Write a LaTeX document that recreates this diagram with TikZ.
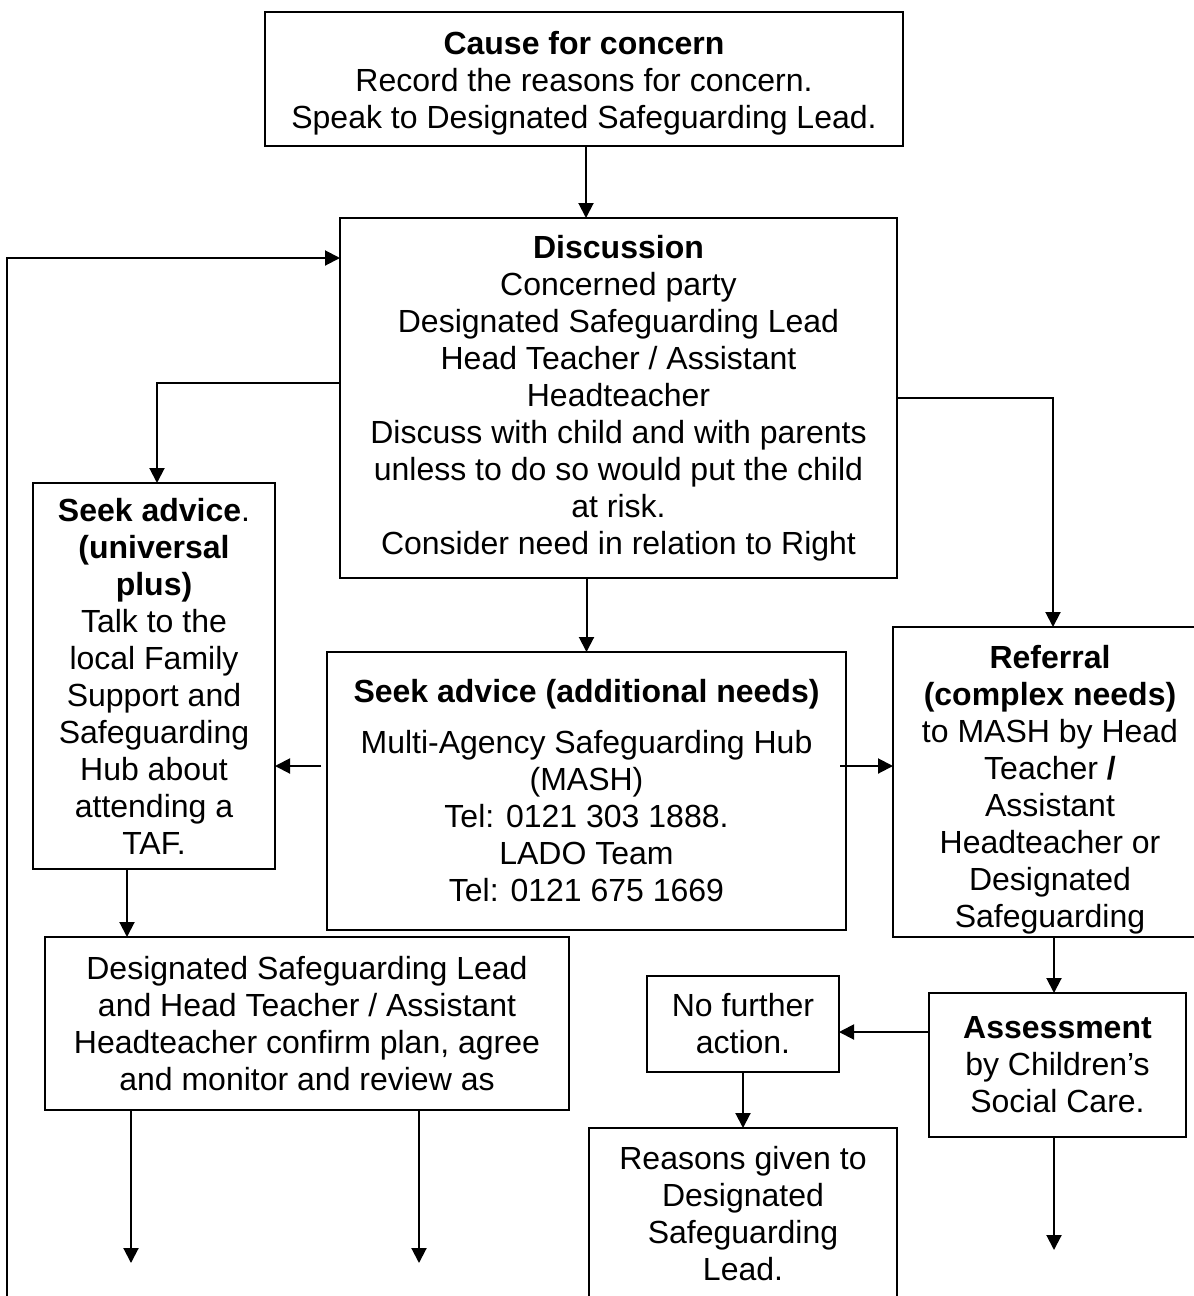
\documentclass[tikz,border=0pt]{standalone}
\usepackage{fontspec}
\setmainfont{Liberation Sans}
\usetikzlibrary{arrows.meta}

\begin{document}
\begin{tikzpicture}[
    x=0.5pt, y=-0.5pt,
    box/.style={draw, line width=0.9pt, align=center, inner sep=0pt, outer sep=0pt,
                font=\fontsize{16}{18.5}\selectfont},
    arr/.style={line width=1pt, -{Triangle[width=7.5pt,length=7.5pt]}}]

\clip (0,0) rectangle (1194,1296);

\node[box, minimum width=319pt, minimum height=67pt] (cause) at (584,79)
    {\rule{0pt}{16pt}\textbf{Cause for concern}\\ Record the reasons for concern.\\ Speak to Designated Safeguarding Lead.};

\node[box, minimum width=278.5pt, minimum height=180pt] (disc) at (618.5,398)
    {\textbf{Discussion}\\ Concerned party\\ Designated Safeguarding Lead\\ Head Teacher / Assistant\\ Headteacher\\
     Discuss with child and with parents\\ unless to do so would put the child\\ at risk.\\ Consider need in relation to Right};

\node[box, minimum width=121pt, minimum height=193pt] (seekU) at (154,676)
    {\textbf{Seek advice}.\\ \textbf{(universal}\\ \textbf{plus)}\\ Talk to the\\ local Family\\ Support and\\
     Safeguarding\\ Hub about\\ attending a\\ TAF.};

\node[box, minimum width=259.5pt, minimum height=139pt] (seekA) at (586.5,791)
    {\textbf{Seek advice (additional needs)}\\[7pt] Multi-Agency Safeguarding Hub\\ (MASH)\\ Tel: 0121 303 1888.\\
     LADO Team\\ Tel: 0121 675 1669};

\node[box, minimum width=157pt, minimum height=155pt] (referral) at (1050,782)
    {\rule{0pt}{19.5pt}\textbf{Referral}\\ \textbf{(complex needs)}\\ to MASH by Head\\ Teacher \textbf{/}\\ Assistant\\
     Headteacher or\\ Designated\\ Safeguarding};

\node[box, minimum width=128.5pt, minimum height=72pt] (assess) at (1057.5,1065)
    {\textbf{Assessment}\\ by Children’s\\ Social Care.};

\node[box, minimum width=96pt, minimum height=48pt] (nfa) at (743,1024)
    {No further\\ action.};

\node[box, minimum width=154pt, minimum height=86pt] (reasons) at (743,1214)
    {Reasons given to\\ Designated\\ Safeguarding\\ Lead.};

\node[box, minimum width=262pt, minimum height=86.5pt] (dsl) at (307,1023.5)
    {Designated Safeguarding Lead\\ and Head Teacher / Assistant\\ Headteacher confirm plan, agree\\ and monitor and review as};

% connectors
\coordinate (loop) at (7,1300);
\coordinate (outa) at (131,1263);
\coordinate (outb) at (419,1263);
\coordinate (outc) at (1054,1250);
\coordinate (toU) at ([yshift=12.5pt]seekA.west);
\coordinate (toR) at ([yshift=12.5pt]seekA.east);
\coordinate (toN) at ([yshift=16.5pt]assess.west);
\coordinate (downU) at ([xshift=-13.5pt]seekU.south);

\draw[arr] (cause.south -| 586,0) -- (disc.north -| 586,0);
\draw[arr] (loop) |- ([yshift=-20pt]disc.north west);
\draw[arr] ([yshift=7.5pt]disc.west) -| ([xshift=1.5pt]seekU.north);
\draw[arr] (disc.east) -| ([xshift=1.5pt]referral.north);
\draw[arr] (seekA.north |- disc.south) -- (seekA.north);
\draw[arr] ([xshift=-3pt]toU) -- (toU -| seekU.east);
\draw[arr] ([xshift=-3pt]toR) -- (toR -| referral.west);
\draw[arr] (outc |- referral.south) -- (outc |- assess.north);
\draw[arr] (toN) -- (toN -| nfa.east);
\draw[arr] (nfa.south) -- (reasons.north);
\draw[arr] (downU) -- (downU |- dsl.north);
\draw[arr] (dsl.south -| outa) -- (outa);
\draw[arr] (dsl.south -| outb) -- (outb);
\draw[arr] (assess.south -| outc) -- (outc);

\end{tikzpicture}
\end{document}
